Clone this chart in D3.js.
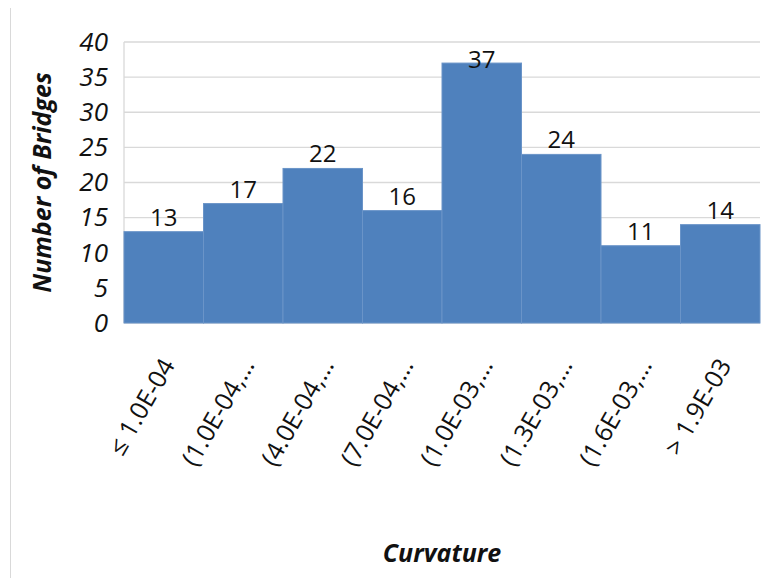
<!DOCTYPE html>
<html>
<head>
<meta charset="utf-8">
<script src="https://cdn.jsdelivr.net/npm/d3@7"></script>
<style>
  body { margin: 0; background: #fff; }
  text { font-family: "Open Sans", "Noto Sans", sans-serif; }
</style>
</head>
<body>
<div id="chart"></div>
<script>
const categories = ["≤ 1.0E-04", "(1.0E-04,…", "(4.0E-04,…", "(7.0E-04,…",
    "(1.0E-03,…", "(1.3E-03,…", "(1.6E-03,…", "> 1.9E-03"];
const counts = [13, 17, 22, 16, 37, 24, 11, 14];
const yTicks = [0, 5, 10, 15, 20, 25, 30, 35, 40];

const W = 764, H = 578;
const margin = { top: 42, right: 4, bottom: 255, left: 124 },
    width = W - margin.left - margin.right,
    height = H - margin.top - margin.bottom;

const svg = d3.select("#chart")
    .append("svg")
    .attr("width", W)
    .attr("height", H);

// left frame edge
svg.append("line")
    .attr("x1", 10.5).attr("x2", 10.5)
    .attr("y1", 8).attr("y2", H)
    .attr("stroke", "#d9d9d9");

const g = svg.append("g")
    .attr("transform", `translate(${margin.left},${margin.top})`);

const x = d3.scaleBand()
    .domain(categories)
    .range([0, width])
    .padding(0);

const y = d3.scaleLinear()
    .domain([0, 40])
    .range([height, 0]);

// gridlines
g.selectAll(".grid")
    .data(yTicks)
    .join("line")
    .attr("x1", 0)
    .attr("x2", width)
    .attr("y1", d => y(d))
    .attr("y2", d => y(d))
    .attr("stroke", "#d9d9d9")
    .attr("stroke-width", 1.3);

g.append("line")
    .attr("x1", 0).attr("x2", 0)
    .attr("y1", 0).attr("y2", height)
    .attr("stroke", "#d9d9d9")
    .attr("stroke-width", 1.3);

// bars
g.selectAll(".bar")
    .data(counts)
    .join("rect")
    .attr("x", (d, i) => x(categories[i]))
    .attr("y", d => y(d))
    .attr("width", x.bandwidth())
    .attr("height", d => height - y(d))
    .attr("fill", "#4f81bd")
    .attr("stroke", "#6a94c8")
    .attr("stroke-width", 1);

// value labels
g.selectAll(".lbl")
    .data(counts)
    .join("text")
    .attr("x", (d, i) => x(categories[i]) + x.bandwidth() / 2)
    .attr("y", d => Math.max(y(d) - 6, 26))
    .attr("text-anchor", "middle")
    .attr("font-size", 24)
    .attr("fill", "#111")
    .text(d => d);

// y axis
const yAxis = g.append("g")
    .call(d3.axisLeft(y).tickValues(yTicks).tickSize(0).tickPadding(16));
yAxis.select(".domain").remove();
yAxis.selectAll("text")
    .attr("font-size", 26)
    .attr("font-style", "italic")
    .attr("fill", "#111")
    .style("font-family", "'Open Sans', sans-serif");

// x axis labels
const xAxis = g.append("g")
    .attr("transform", `translate(0,${height})`)
    .call(d3.axisBottom(x).tickSize(0));
xAxis.select(".domain").remove();
xAxis.selectAll("text")
    .attr("font-size", 25)
    .attr("fill", "#111")
    .attr("text-anchor", "end")
    .attr("dy", 0)
    .attr("transform", "translate(12,42) rotate(-60)")
    .attr("y", 0)
    .style("font-family", "'Open Sans', sans-serif");

// axis titles
svg.append("text")
    .attr("transform", `translate(51,${margin.top + height / 2}) rotate(-90)`)
    .attr("text-anchor", "middle")
    .attr("font-size", 25)
    .attr("font-weight", "bold")
    .attr("font-style", "italic")
    .attr("fill", "#111")
    .text("Number of Bridges");

svg.append("text")
    .attr("x", margin.left + width / 2)
    .attr("y", 562)
    .attr("text-anchor", "middle")
    .attr("font-size", 25)
    .attr("font-weight", "bold")
    .attr("font-style", "italic")
    .attr("fill", "#111")
    .text("Curvature");
</script>
</body>
</html>
